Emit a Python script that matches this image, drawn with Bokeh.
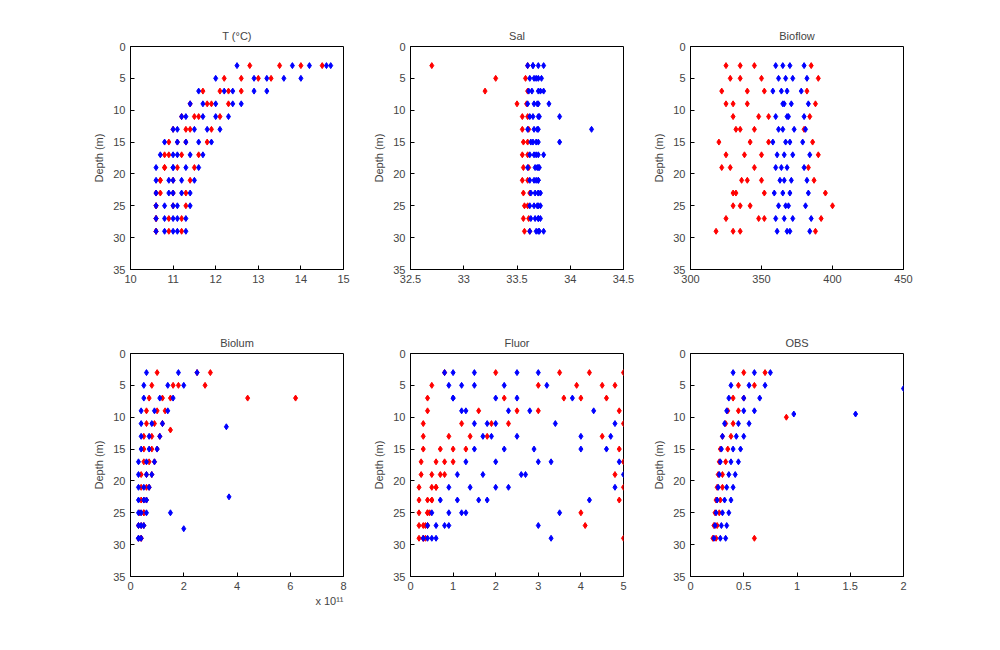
from bokeh.plotting import figure
from bokeh.layouts import gridplot
from bokeh.models import Range1d, FixedTicker, Title
from bokeh.embed import file_html
from bokeh.resources import INLINE

DEPTHS = [3,5,7,9,11,13,15,17,19,21,23,25,27,29]

T_RED = [[14.5,13.0,12.3,11.9,11.6,11.3,11.1,10.9,10.8,10.7,10.6,10.6,10.6,10.6],
         [13.5,12.6,12.1,11.8,11.5,11.4,11.3,11.2,11.1,11.0,11.0,11.0,10.9,10.9],
         [14.0,13.3,12.6,12.3,12.1,11.9,11.8,11.6,11.5,11.4,11.3,11.3,11.2,11.2],
         [12.8,12.2,11.7,11.4,11.2,11.0,10.9,10.8,10.8,10.7,10.7,10.6,10.6,10.6]]
T_BLUE = [[14.7,14.0,13.2,12.6,12.3,12.1,11.9,11.7,11.6,11.5,11.4,11.4,11.3,11.3],
          [14.2,13.2,12.4,12.0,11.7,11.5,11.3,11.1,11.0,10.9,10.9,10.8,10.8,10.8],
          [13.8,12.9,12.2,11.7,11.3,11.0,10.8,10.7,10.6,10.6,10.6,10.6,10.6,10.6],
          [14.6,13.6,12.9,12.4,12.0,11.8,11.6,11.4,11.3,11.2,11.2,11.1,11.1,11.1],
          [12.5,12.0,11.6,11.4,11.2,11.1,11.1,11.0,11.0,11.0,11.0,11.0,11.0,11.0]]

SAL_RED = [[32.7,33.3,33.2,33.5,33.55,33.55,33.56,33.55,33.56,33.55,33.56,33.57,33.56,33.57],
           [33.6,33.58,33.6,33.59,33.6,33.61,33.6,33.6,33.61,33.6,33.62,33.6,33.61,33.62]]
SAL_BLUE = [[33.65,33.7,33.75,33.8,33.9,34.2,33.9,33.75,33.7,33.7,33.72,33.7,33.72,33.75],
            [33.6,33.62,33.61,33.6,33.62,33.6,33.63,33.62,33.6,33.62,33.63,33.62,33.63,33.62],
            [33.7,33.68,33.7,33.69,33.7,33.7,33.68,33.7,33.71,33.7,33.7,33.72,33.7,33.7],
            [33.65,33.66,33.64,33.66,33.65,33.66,33.65,33.66,33.67,33.66,33.67,33.66,33.67,33.68],
            [33.75,33.73,33.72,33.7,33.71,33.69,33.7,33.68,33.69,33.68,33.7,33.69,33.7,33.71]]

BF_RED = [[325,335,322,340,330,345,320,338,328,350,332,342,325,318],
          [345,328,352,330,348,335,355,325,345,336,352,330,348,335],
          [385,390,382,388,384,380,386,390,383,387,395,400,392,388],
          [335,350,340,325,355,332,342,350,322,340,330,335,352,330]]
BF_BLUE = [[360,362,358,365,360,362,358,361,360,363,359,362,360,361],
           [370,372,368,371,369,373,370,372,368,371,370,369,372,370],
           [380,382,378,383,380,381,379,384,380,382,383,381,385,384],
           [365,367,364,366,368,365,367,366,364,366,365,367,366,368]]

BL_RED = [[3.0,1.8,1.5,1.3,1.2,1.1,1.0,0.9,0.8,0.7,0.6,0.5,0.5,0.4],
          [2.5,1.6,1.2,1.0,0.9,0.8,0.8,0.7,0.6,0.6,0.5,0.5,0.4,0.4],
          [1.0,0.8,0.7,0.6,0.6,0.5,0.5,0.5,0.4,0.4,0.4,0.35,0.3,0.3],
          [6.2,4.4,2.8,1.5]]
BL_RED_D = [None, None, None, [7,7,5,12]]
BL_BLUE = [[2.5,2.0,1.6,1.4,1.2,1.1,1.0,0.9,0.8,0.7,0.6,0.6,0.5,0.4],
           [1.8,1.4,1.1,0.9,0.8,0.7,0.7,0.6,0.6,0.5,0.5,0.4,0.4,0.3],
           [0.6,0.5,0.5,0.4,0.4,0.4,0.4,0.3,0.3,0.3,0.3,0.3,0.3,0.3],
           [3.7,3.6,2.0,1.5]]
BL_BLUE_D = [None, None, None, [22.5,11.5,27.5,25]]

FL_RED = [[5.0,4.8,3.6,2.5,1.9,1.4,1.0,0.8,0.7,0.6,0.5,0.4,0.35,0.3],
          [2.0,4.5,4.0,3.0,2.3,1.8,1.3,1.0,0.8,0.6,0.5,0.45,0.4,0.35],
          [0.8,0.5,0.4,0.4,0.3,0.3,0.3,0.25,0.25,0.2,0.2,0.2,0.2,0.2],
          [3.5,3.0,2.2,1.6,1.2,0.9,0.7,0.6,0.5,0.5,0.4,0.4,0.3,0.3],
          [4.2,3.9,4.6,4.9,5.0,4.5,4.9,5.0,4.8,5.0,4.9,4.0,4.1,5.0]]
FL_BLUE = [[1.0,1.5,2.0,2.8,3.4,4.0,4.6,4.9,5.0,4.8,4.2,3.5,3.0,3.3],
           [2.5,2.2,2.5,2.3,2.0,1.7,1.5,1.3,1.1,0.9,0.7,0.5,0.4,0.3],
           [3.0,3.2,3.8,4.3,4.8,4.7,4.0,3.3,2.6,2.0,1.6,1.2,0.9,0.6],
           [1.5,1.2,1.0,1.3,1.8,2.5,2.9,3.0,2.7,2.3,1.8,1.3,0.8,0.5],
           [0.8,0.9,1.0,1.2,1.5,1.9,2.2,2.0,1.7,1.4,1.1,0.9,0.6,0.4]]

OBS_RED = [[0.7,0.6,0.5,0.45,0.4,0.38,0.35,0.33,0.3,0.3,0.28,0.27,0.25,0.24],
           [0.5,0.45,0.4,0.35,0.33,0.3,0.28,0.27,0.26,0.25,0.24,0.23,0.22,0.21],
           [0.9,0.6]]
OBS_RED_D = [None, None, [10,29]]
OBS_BLUE = [[0.75,0.7,0.65,0.6,0.55,0.5,0.47,0.45,0.42,0.4,0.38,0.36,0.34,0.33],
            [0.4,0.38,0.36,0.34,0.32,0.3,0.29,0.28,0.27,0.26,0.25,0.24,0.23,0.22],
            [0.6,0.55,0.5,0.5,0.45,0.43,0.4,0.38,0.36,0.34,0.32,0.3,0.29,0.28],
            [2.0,1.55,0.97]]
OBS_BLUE_D = [None, None, None, [5.5,9.5,9.5]]

FONT = "Liberation Sans"

def panel(title, xr, xticks, red, blue, left, top, bottom, red_d=None, blue_d=None, overrides=None):
    w = left + 213 + 17
    h = top + 223 + bottom
    p = figure(width=w, height=h, output_backend="svg", toolbar_location=None,
               x_range=Range1d(*xr), y_range=Range1d(35, 0),
               min_border_left=left, min_border_right=17, min_border_top=top, min_border_bottom=bottom)
    p.title.text = title
    p.title.align = "center"
    p.title.text_font = FONT
    p.title.text_font_size = "11px"
    p.title.text_font_style = "normal"
    p.xgrid.visible = False
    p.ygrid.visible = False
    p.outline_line_color = "black"
    for ax in (p.xaxis[0], p.yaxis[0]):
        ax.major_tick_in = 4
        ax.major_tick_out = 0
        ax.minor_tick_in = 0
        ax.minor_tick_out = 0
        ax.major_label_text_font = FONT
        ax.major_label_text_font_size = "11px"
        ax.axis_label_text_font = FONT
        ax.axis_label_text_font_size = "11px"
        ax.axis_label_text_font_style = "normal"
    p.xaxis.ticker = FixedTicker(ticks=xticks)
    p.yaxis.ticker = FixedTicker(ticks=[0, 5, 10, 15, 20, 25, 30, 35])
    p.yaxis.axis_label = "Depth (m)"
    if overrides:
        p.xaxis.major_label_overrides = overrides
    for series, dl, col in ((red, red_d, "#ff0000"), (blue, blue_d, "#0000ff")):
        for i, xs in enumerate(series):
            ds = dl[i] if dl and dl[i] is not None else DEPTHS[:len(xs)]
            p.scatter(xs, ds, marker="diamond", size=6, color=col)
    return p

TOP, BOT = 46, 40
TOP2, BOT2 = 44, 62
p1 = panel("T (°C)", (10, 15), [10, 11, 12, 13, 14, 15], T_RED, T_BLUE, 130, TOP, BOT)
p2 = panel("Sal", (32.5, 34.5), [32.5, 33, 33.5, 34, 34.5], SAL_RED, SAL_BLUE, 50, TOP, BOT,
           overrides={33: "33", 34: "34"})
p3 = panel("Bioflow", (300, 450), [300, 350, 400, 450], BF_RED, BF_BLUE, 50, TOP, BOT)
p4 = panel("Biolum", (0, 8), [0, 2, 4, 6, 8], BL_RED, BL_BLUE, 130, TOP2, BOT2, BL_RED_D, BL_BLUE_D)
p4.add_layout(Title(text="x 10¹¹", align="right", text_font=FONT, text_font_size="11px",
                    text_font_style="normal", standoff=0), "below")
p5 = panel("Fluor", (0, 5), [0, 1, 2, 3, 4, 5], FL_RED, FL_BLUE, 50, TOP2, BOT2)
p6 = panel("OBS", (0, 2), [0, 0.5, 1, 1.5, 2], OBS_RED, OBS_BLUE, 50, TOP2, BOT2, OBS_RED_D, OBS_BLUE_D)

grid = gridplot([[p1, p2, p3], [p4, p5, p6]], toolbar_location=None)
open("out.html", "w").write(file_html(grid, INLINE))
